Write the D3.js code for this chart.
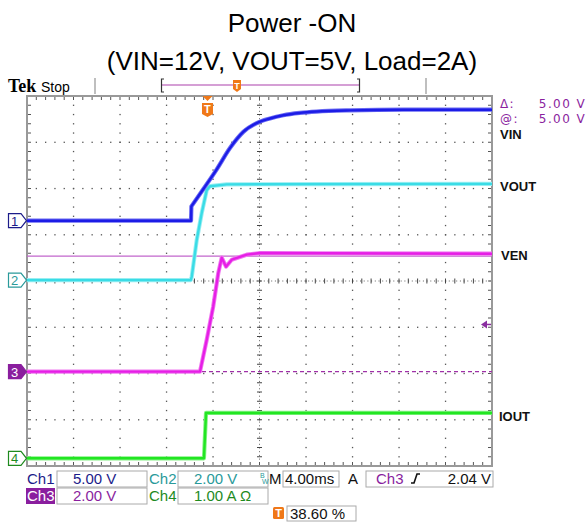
<!DOCTYPE html>
<html><head><meta charset="utf-8">
<script src="https://cdn.jsdelivr.net/npm/d3@7"></script>
<style>body{margin:0;background:#fff}svg{display:block}</style>
</head><body>
<svg id="c" width="587" height="522"></svg>
<script>
// ---------------- data ----------------
const titleLines = ["Power -ON", "(VIN=12V, VOUT=5V, Load=2A)"];
const timePerDiv = 4;          // ms/div
const triggerPct = 38.60;      // % of record before trigger
const triggerLevel = 2.04;     // V on Ch3
const cursorLevels = [5.0, 0.0]; // Ch3 cursors (V)

const timeVIN = [-15.44, -1.33, -1.30, -0.28, 0.88, 2.02, 3.17, 4.32, 5.46, 6.61, 8.04, 9.48, 12.34, 17.0, 24.56];
const vinValues = [0, 0, 1.55, 3.40, 5.55, 7.85, 9.60, 10.55, 11.05, 11.40, 11.65, 11.80, 11.93, 12.0, 12.0];

const timeVOUT = [-15.44, -1.36, -1.27, -0.84, -0.41, 0.02, 0.30, 1.74, 10.0, 24.56];
const voutValues = [0, 0, 0.14, 1.73, 2.90, 3.89, 4.06, 4.14, 4.15, 4.16];

const timeVEN = [-15.44, -0.56, 0.02, 0.58, 1.02, 1.31, 1.68, 2.17, 3.46, 4.60, 10.0, 24.56];
const venValues = [0, 0, 1.38, 2.82, 4.28, 4.93, 4.54, 4.84, 5.06, 5.13, 5.12, 5.10];

const timeIOUT = [-15.44, -0.22, -0.04, 24.56];
const ioutValues = [0, 0, 0.98, 0.98];

const scaleLabels = ["5.00 V", "2.00 V", "2.00 V", "1.00 A \u03A9"];
const timebaseLabel = "4.00ms";
const triggerLabel = "2.04 V";
const positionLabel = "38.60 %";
const cursorDelta = "5.00 V", cursorAt = "5.00 V";

// ---------------- layout ----------------
const svg = d3.select("#c");
const X0 = 27, X1 = 492, Y0 = 96, Y1 = 466;
const tStart = -timePerDiv * 10 * triggerPct / 100;
const tEnd = tStart + timePerDiv * 10;
const x = d3.scaleLinear().domain([tStart, tEnd]).range([X0, X1]);
const xd = d3.scaleLinear().domain([0, 10]).range([X0, X1]);
const yd = d3.scaleLinear().domain([-4, 4]).range([Y1, Y0]);

const channels = [
  {num:"1", name:"VIN",  t:timeVIN,  v:vinValues,  vdiv:5, off:1.304, color:"#1c1ce6", fuzz:"#6a6af2", txt:"#1c1c8a", filled:false, labelY:139, lx:500, smooth:2},
  {num:"2", name:"VOUT", t:timeVOUT, v:voutValues, vdiv:2, off:0.02,  color:"#3adce6", fuzz:"#98eef2", txt:"#2a9a9a", filled:false, labelY:191, lx:500, smooth:0},
  {num:"3", name:"VEN",  t:timeVEN,  v:venValues,  vdiv:2, off:-1.96, color:"#e61ee6", fuzz:"#f07af0", txt:"#8a1e9e", filled:true,  labelY:260, lx:501, smooth:0},
  {num:"4", name:"IOUT", t:timeIOUT, v:ioutValues, vdiv:1, off:-3.833,color:"#22e622", fuzz:"#86f286", txt:"#1e8a1e", filled:false, labelY:421, lx:499, smooth:0}
];
const chY = (ch, v) => yd(v / ch.vdiv + ch.off);

// Title
svg.selectAll("text.title").data(titleLines).join("text")
  .attr("x", 292).attr("y", (d,i) => i ? 70 : 32)
  .attr("text-anchor", "middle")
  .style("font", "26px 'Liberation Sans', Arial, sans-serif").attr("fill", "#000")
  .text(d => d);

// Top status line
svg.append("text").attr("x", 8).attr("y", 92).style("font", "bold 18px 'Liberation Serif', serif").text("Tek");
svg.append("text").attr("x", 41).attr("y", 92).style("font", "14px 'Liberation Sans', Arial, sans-serif").text("Stop");
[95, 426].forEach(px => svg.append("line").attr("x1", px).attr("x2", px).attr("y1", 78).attr("y2", 94).attr("stroke", "#aaa").attr("stroke-width", 1.5));
svg.append("line").attr("x1", 162).attr("x2", 359).attr("y1", 85).attr("y2", 85).attr("stroke", "#c77fc7").attr("stroke-width", 1.5);
svg.append("path").attr("d", "M164,79 H161.5 V92 H164 M357,79 H359.5 V92 H357").attr("fill", "none").attr("stroke", "#333").attr("stroke-width", 1.2);
function tMarker(g, cx, top, w, h) {
  g.append("path").attr("d", `M${cx-w/2},${top} H${cx+w/2} V${top+h-3} L${cx},${top+h} L${cx-w/2},${top+h-3} Z`).attr("fill", "#f07818");
  g.append("text").attr("x", cx).attr("y", top + h*0.72).attr("text-anchor", "middle")
    .style("font", `bold ${Math.round(h*0.75)}px 'Liberation Sans', Arial, sans-serif`).attr("fill", "#fff").text("T");
}
tMarker(svg, 237, 80, 8, 12);

// Grid frame
const grid = svg.append("g");
grid.append("rect").attr("x", X0).attr("y", Y0).attr("width", X1-X0).attr("height", Y1-Y0)
  .attr("fill", "#fff").attr("stroke", "#999").attr("stroke-width", 2);
const dots = [];
for (let k = 1; k <= 9; k++) { if (k === 5) continue; for (let s = 1; s < 40; s++) dots.push([xd(k), yd(-4 + s*0.2)]); }
for (let j = -3; j <= 3; j++) { if (j === 0) continue; for (let s = 1; s < 50; s++) dots.push([xd(s*0.2), yd(j)]); }
grid.selectAll("rect.dot").data(dots).join("rect").attr("class", "dot")
  .attr("x", d => d[0]-0.6).attr("y", d => d[1]-0.6).attr("width", 1.3).attr("height", 1.3).attr("fill", "#555");
grid.append("line").attr("x1", xd(5)).attr("x2", xd(5)).attr("y1", Y0).attr("y2", Y1).attr("stroke", "#666").attr("stroke-dasharray", "1,2.7");
grid.append("line").attr("x1", X0).attr("x2", X1).attr("y1", yd(0)).attr("y2", yd(0)).attr("stroke", "#666").attr("stroke-dasharray", "1,2.7");
const cTicksV = d3.range(1, 40).map(s => yd(-4 + s*0.2));
const cTicksH = d3.range(1, 50).map(s => xd(s*0.2));
grid.selectAll("line.cv").data(cTicksV).join("line").attr("x1", xd(5)-2.5).attr("x2", xd(5)+2.5).attr("y1", d=>d).attr("y2", d=>d).attr("stroke", "#444");
grid.selectAll("line.ch").data(cTicksH).join("line").attr("y1", yd(0)-2.5).attr("y2", yd(0)+2.5).attr("x1", d=>d).attr("x2", d=>d).attr("stroke", "#444");
grid.selectAll("line.bt").data(cTicksH).join("line").attr("x1", d=>d).attr("x2", d=>d).attr("y1", Y0+1).attr("y2", Y0+4).attr("stroke", "#555");
grid.selectAll("line.bb").data(cTicksH).join("line").attr("x1", d=>d).attr("x2", d=>d).attr("y1", Y1-4).attr("y2", Y1-1).attr("stroke", "#555");
grid.selectAll("line.bl").data(cTicksV).join("line").attr("y1", d=>d).attr("y2", d=>d).attr("x1", X0+1).attr("x2", X0+4).attr("stroke", "#555");
grid.selectAll("line.br").data(cTicksV).join("line").attr("y1", d=>d).attr("y2", d=>d).attr("x1", X1-4).attr("x2", X1-1).attr("stroke", "#555");

// Cursors on Ch3
const ch3 = channels[2];
svg.append("line").attr("x1", X0).attr("x2", X1).attr("y1", chY(ch3, cursorLevels[0])).attr("y2", chY(ch3, cursorLevels[0]))
  .attr("stroke", "#c266cc").attr("stroke-width", 1.3);
svg.append("line").attr("x1", X0).attr("x2", X1).attr("y1", chY(ch3, cursorLevels[1])).attr("y2", chY(ch3, cursorLevels[1]))
  .attr("stroke", "#a030a8").attr("stroke-width", 1.2).attr("stroke-dasharray", "4,3");

// Traces
const traces = svg.append("g");
[3, 2, 1, 0].forEach(i => {
  const ch = channels[i];
  const pts = ch.t.map((t, k) => [x(t), chY(ch, ch.v[k])]);
  let d;
  if (ch.smooth) {
    const head = pts.slice(0, ch.smooth);
    const tail = pts.slice(ch.smooth);
    d = d3.line()(head) + d3.line().curve(d3.curveMonotoneX)(tail).replace(/^M/, "L");
  } else {
    d = d3.line()(pts);
  }
  traces.append("path").attr("d", d).attr("fill", "none").attr("stroke", ch.fuzz).attr("stroke-width", 4.2).attr("stroke-linejoin", "round");
  traces.append("path").attr("d", d).attr("fill", "none").attr("stroke", ch.color).attr("stroke-width", 2.4).attr("stroke-linejoin", "round");
});

// Trigger position marker on graticule
tMarker(svg, x(0) + 1, 103, 11, 14);
svg.append("path").attr("d", `M${x(0)-4},96 H${x(0)+6} L${x(0)+1},101 Z`).attr("fill", "#f07818");

// Trigger level arrow (Ch3)
const ty = chY(ch3, triggerLevel);
svg.append("path").attr("d", `M481,${ty} L487,${ty-4} L487,${ty+4} Z`).attr("fill", "#8a2ea0");
svg.append("line").attr("x1", 486).attr("x2", 491).attr("y1", ty).attr("y2", ty).attr("stroke", "#8a2ea0").attr("stroke-width", 1.5);

// Channel ground markers + labels
channels.forEach(ch => {
  const cy = chY(ch, 0);
  const g = svg.append("g");
  g.append("path").attr("d", `M8.5,${cy-7} H21 L26.5,${cy} L21,${cy+7} H8.5 Z`)
    .attr("fill", ch.filled ? ch.txt : "#fff").attr("stroke", ch.txt).attr("stroke-width", 1.2);
  g.append("text").attr("x", 14.5).attr("y", cy + 5).attr("text-anchor", "middle")
    .style("font", "13px 'Liberation Sans', Arial, sans-serif").attr("fill", ch.filled ? "#fff" : ch.txt).text(ch.num);
  svg.append("text").attr("x", ch.lx).attr("y", ch.labelY)
    .style("font", "bold 13px 'Liberation Sans', Arial, sans-serif").attr("fill", "#111").text(ch.name);
});

// Cursor readout
const cur = svg.append("g").style("font", "12px 'DejaVu Sans', sans-serif").style("letter-spacing", "1.4px").attr("fill", "#8a1e9e");
cur.append("text").attr("x", 500).attr("y", 108).text("\u0394:");
cur.append("text").attr("x", 586).attr("y", 108).attr("text-anchor", "end").text(cursorDelta);
cur.append("text").attr("x", 500).attr("y", 123).text("@:");
cur.append("text").attr("x", 586).attr("y", 123).attr("text-anchor", "end").text(cursorAt);

// Bottom readout
const sb = svg.append("g").style("font", "15px 'Liberation Sans', Arial, sans-serif");
function box(x0, y0, w, h) { sb.append("rect").attr("x", x0).attr("y", y0).attr("width", w).attr("height", h).attr("fill", "#fff").attr("stroke", "#aaa").attr("stroke-width", 1); }
box(57, 471, 90, 16); box(178, 471, 90, 16); box(283, 471, 56, 16); box(366, 471, 127, 16);
box(57, 488, 90, 16); box(178, 488, 90, 16);
box(287, 506, 69, 15);
sb.append("text").attr("x", 27).attr("y", 484).attr("fill", channels[0].txt).text("Ch1");
sb.append("text").attr("x", 73).attr("y", 484).attr("fill", channels[0].txt).text(scaleLabels[0]);
sb.append("text").attr("x", 149).attr("y", 484).attr("fill", channels[1].txt).text("Ch2");
sb.append("text").attr("x", 194).attr("y", 484).attr("fill", channels[1].txt).text(scaleLabels[1]);
sb.append("text").attr("x", 260).attr("y", 478).style("font", "7px 'Liberation Sans', sans-serif").attr("fill", "#2a9a9a").text("B");
sb.append("text").attr("x", 262).attr("y", 484).style("font", "7px 'Liberation Sans', sans-serif").attr("fill", "#2a9a9a").text("W");
sb.append("text").attr("x", 269).attr("y", 484).attr("fill", "#111").text("M");
sb.append("text").attr("x", 285).attr("y", 484).attr("fill", "#111").text(timebaseLabel);
sb.append("text").attr("x", 348).attr("y", 484).attr("fill", "#111").text("A");
sb.append("text").attr("x", 376).attr("y", 484).attr("fill", channels[2].txt).text("Ch3");
sb.append("path").attr("d", "M411,483 H414 L417,474 H420").attr("fill", "none").attr("stroke", "#111").attr("stroke-width", 1.6);
sb.append("text").attr("x", 491).attr("y", 484).attr("text-anchor", "end").attr("fill", "#111").text(triggerLabel);
sb.append("rect").attr("x", 26).attr("y", 488).attr("width", 29).attr("height", 16).attr("fill", channels[2].txt);
sb.append("text").attr("x", 27).attr("y", 501).attr("fill", "#fff").text("Ch3");
sb.append("text").attr("x", 73).attr("y", 501).attr("fill", channels[2].txt).text(scaleLabels[2]);
sb.append("text").attr("x", 149).attr("y", 501).attr("fill", channels[3].txt).text("Ch4");
sb.append("text").attr("x", 194).attr("y", 501).attr("fill", channels[3].txt).text(scaleLabels[3]);
sb.append("rect").attr("x", 273).attr("y", 507).attr("width", 11).attr("height", 12).attr("rx", 1.5).attr("fill", "#f07818");
sb.append("text").attr("x", 278.5).attr("y", 517).attr("text-anchor", "middle").style("font", "bold 11px 'Liberation Sans', sans-serif").attr("fill", "#fff").text("T");
sb.append("text").attr("x", 290).attr("y", 519).attr("fill", "#111").text(positionLabel);
</script>
</body></html>
